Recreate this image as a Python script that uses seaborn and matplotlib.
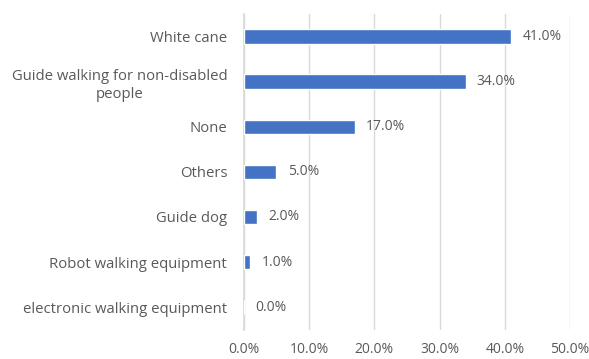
import pandas as pd
import matplotlib.pyplot as plt
import seaborn as sns
from matplotlib.ticker import FuncFormatter

sns.set_theme(style="white")
plt.rcParams['font.family'] = ['Open Sans', 'DejaVu Sans']

categories = ["White cane", "Guide walking for non-disabled\npeople", "None", "Others",
              "Guide dog", "Robot walking equipment", "electronic walking equipment"]
values = [41.0, 34.0, 17.0, 5.0, 2.0, 1.0, 0.0]

df = pd.DataFrame({"category": categories, "value": values})

fig = plt.figure(figsize=(5.89, 3.59), dpi=100)
ax = fig.add_axes([0.414, 0.082, 0.554, 0.878])
text_color = "#595959"

sns.barplot(data=df, x="value", y="category", color="#4472C4", width=0.33,
            saturation=1, ax=ax, zorder=3)

ax.set_xlim(0, 50)
ax.set_xticks(range(0, 51, 10))
ax.xaxis.set_major_formatter(FuncFormatter(lambda v, p: f"{v:.1f}%"))
ax.grid(axis="x", color="#d9d9d9", linewidth=1, zorder=0)
ax.set_xlabel("")
ax.set_ylabel("")
for s in ["top", "right", "bottom"]:
    ax.spines[s].set_visible(False)
ax.spines["left"].set_color("#d9d9d9")
ax.tick_params(axis="x", length=0, colors=text_color, labelsize=10, pad=9)
ax.tick_params(axis="y", length=0, colors=text_color, labelsize=10.7, pad=12)
for lab in ax.get_yticklabels():
    lab.set_multialignment("center")
    lab.set_linespacing(1.3)

for i, v in enumerate(values):
    ax.text(v + 1.7, i, f"{v:.1f}%", va="center", ha="left", fontsize=10, color=text_color)

plt.savefig("out.png", dpi=100)
